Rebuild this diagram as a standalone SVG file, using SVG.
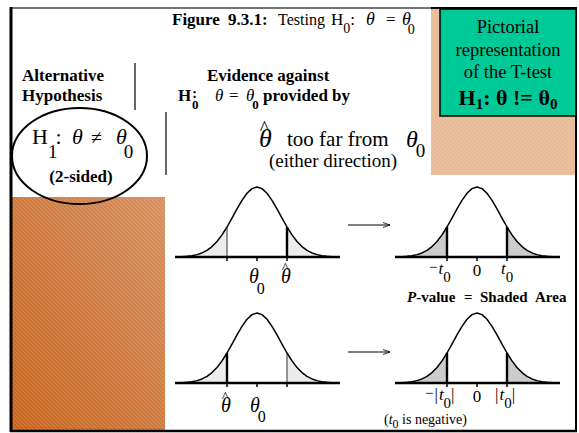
<svg xmlns="http://www.w3.org/2000/svg" width="579" height="433" viewBox="0 0 579 433">
<style>
text{font-family:"Liberation Serif","Times New Roman",serif;fill:#000}
.b{font-weight:bold}
.i{font-style:italic}
.curve{fill:none;stroke:#000;stroke-width:1.5;stroke-linejoin:round}
.axis{stroke:#000;stroke-width:2.6}
.thick{stroke:#000;stroke-width:2.4}
.thin{stroke:#333;stroke-width:1}
.tick{stroke:#000;stroke-width:1.5}
.light{fill:#ececec}
.dark{fill:#cccccc}
.conn{stroke:#000;stroke-width:1;fill:none}
</style>
<defs>
<linearGradient id="og" x1="1" y1="0" x2="0" y2="1">
<stop offset="0" stop-color="#D98F5E"/>
<stop offset="1" stop-color="#CB6418"/>
</linearGradient>
<pattern id="st" patternUnits="userSpaceOnUse" width="4" height="4">
<path d="M-1,-1 L5,5 M-1,3 L1,5 M3,-1 L5,1" stroke="#fff" stroke-opacity="0.22" stroke-width="0.8"/>
</pattern>
<path id="bell" d="M-80,-0.17 L-75,-0.35 L-70,-0.69 L-65,-1.31 L-60,-2.36 L-55,-4.06 L-50,-6.65 L-45,-10.4 L-40,-15.52 L-35,-22.09 L-30,-30 L-25,-38.86 L-20,-48.04 L-15,-56.64 L-10,-63.71 L-5,-68.37 L0,-70 L5,-68.37 L10,-63.71 L15,-56.64 L20,-48.04 L25,-38.86 L30,-30 L35,-22.09 L40,-15.52 L45,-10.4 L50,-6.65 L55,-4.06 L60,-2.36 L65,-1.31 L70,-0.69 L75,-0.35 L80,-0.17"/>
<path id="ltail" d="M-80,0 L-80,-0.17 L-75,-0.35 L-70,-0.69 L-65,-1.31 L-60,-2.36 L-55,-4.06 L-50,-6.65 L-45,-10.4 L-40,-15.52 L-35,-22.09 L-30,-30 L-30,0 Z"/>
<path id="rtail" d="M80,0 L80,-0.17 L75,-0.35 L70,-0.69 L65,-1.31 L60,-2.36 L55,-4.06 L50,-6.65 L45,-10.4 L40,-15.52 L35,-22.09 L30,-30 L30,0 Z"/>
<g id="ticks"><line class="tick" x1="-30" y1="0" x2="-30" y2="4"/><line class="tick" x1="0" y1="0" x2="0" y2="4"/><line class="tick" x1="30" y1="0" x2="30" y2="4"/></g>
<marker id="ah" markerWidth="8" markerHeight="6" refX="7" refY="3" orient="auto" markerUnits="userSpaceOnUse">
<path d="M0,0.5 L7,3 L0,5.5" fill="none" stroke="#000" stroke-width="0.8"/>
</marker>
</defs>

<rect x="0" y="0" width="579" height="433" fill="#fff"/>

<g id="patches">
<rect x="12" y="197" width="153" height="233" fill="url(#og)"/>
<rect x="12" y="197" width="153" height="233" fill="url(#st)"/>
<rect x="431" y="9" width="145" height="166" fill="#E9BA96"/>
<rect x="431" y="9" width="145" height="166" fill="url(#st)"/>
</g>

<g id="frame" fill="none">
<line x1="10" y1="8" x2="431" y2="8" stroke="#444" stroke-width="1.5"/>
<line x1="431" y1="8" x2="577" y2="8" stroke="#000" stroke-width="2"/>
<line x1="11" y1="7" x2="11" y2="432" stroke="#000" stroke-width="3"/>
<line x1="576" y1="7" x2="576" y2="432" stroke="#000" stroke-width="2"/>
<line x1="10" y1="431" x2="577" y2="431" stroke="#000" stroke-width="2.5"/>
<line x1="135" y1="63" x2="135" y2="110" stroke="#000" stroke-width="1.2"/>
<line x1="166" y1="112" x2="166" y2="175" stroke="#000" stroke-width="1.2"/>
</g>

<g id="title">
<text x="172" y="25" font-size="17" class="b">Figure</text>
<text x="228" y="25" font-size="17" class="b">9.3.1:</text>
<text x="278" y="25" font-size="16">Testing</text>
<text x="331" y="25" font-size="17">H<tspan font-size="14" dy="8">0</tspan><tspan dy="-8">:</tspan></text>
<text x="366" y="25" font-size="18" class="i">θ</text>
<text x="386" y="25" font-size="17">=</text>
<text x="402" y="25" font-size="18" class="i">θ<tspan font-size="14" font-style="normal" dx="-3" dy="9">0</tspan></text>
</g>

<g id="pictorial">
<rect x="440" y="9" width="136" height="107" fill="#00C998" stroke="#000" stroke-width="1.5"/>
<text x="508" y="33" font-size="18.5" text-anchor="middle">Pictorial</text>
<text x="508" y="56" font-size="18.5" text-anchor="middle">representation</text>
<text x="508" y="78" font-size="18.5" text-anchor="middle">of the T-test</text>
<text x="508" y="105" font-size="22" text-anchor="middle" class="b">H<tspan font-size="15" dy="4">1</tspan><tspan dy="-4">: θ != θ</tspan><tspan font-size="15" dy="4">0</tspan></text>
</g>

<g id="alt-header">
<text x="22" y="81" font-size="17" class="b">Alternative</text>
<text x="22" y="101" font-size="17" class="b">Hypothesis</text>
</g>

<g id="evidence-header">
<text x="207" y="81" font-size="17" class="b">Evidence against</text>
<text x="178" y="101" font-size="17" class="b">H<tspan font-size="14" dx="1" dy="-3">:</tspan><tspan font-size="13" dx="-5" dy="11">0</tspan></text>
<text x="215" y="101" font-size="17" class="i">θ</text>
<text x="229" y="101" font-size="17">=</text>
<text x="246" y="101" font-size="17" class="i">θ<tspan font-size="13" font-style="normal" font-weight="bold" dx="-2" dy="8">0</tspan></text>
<text x="263" y="101" font-size="17" class="b">provided by</text>
</g>

<g id="h1-ellipse">
<ellipse cx="79.5" cy="156" rx="67.5" ry="48" fill="none" stroke="#000" stroke-width="2"/>
<text x="32" y="144" font-size="22">H<tspan font-size="19" dy="14">1</tspan><tspan dx="-2" dy="-14">:</tspan></text>
<text x="72" y="144" font-size="22" class="i">θ</text>
<text x="91" y="144" font-size="20">≠</text>
<text x="116" y="144" font-size="22" class="i">θ<tspan font-size="19" font-style="normal" dx="-3" dy="14">0</tspan></text>
<text x="81" y="182" font-size="17" class="b" text-anchor="middle">(2-sided)</text>
</g>

<g id="evidence">
<text x="259" y="147" font-size="26" class="i">θ<tspan font-size="20" font-style="normal" dx="-12" dy="-12">^</tspan></text>
<text x="287" y="146" font-size="21">too far from</text>
<text x="406" y="147" font-size="24" class="i">θ<tspan font-size="19" font-style="normal" dx="-2" dy="10">0</tspan></text>
<text x="269" y="167" font-size="19">(either direction)</text>
</g>

<g id="curve-tl">
<use href="#ltail" class="light" transform="translate(257,257)"/>
<use href="#rtail" class="light" transform="translate(257,257)"/>
<use href="#bell" class="curve" transform="translate(257,257)"/>
<line class="thin" x1="227" y1="257" x2="227" y2="227"/>
<line class="thick" x1="287" y1="257" x2="287" y2="227"/>
<line class="axis" x1="175" y1="257" x2="340" y2="257"/>
<use href="#ticks" transform="translate(257,257)"/>
<text x="249" y="283" font-size="20" class="i">θ<tspan font-size="16" font-style="normal" dx="-2" dy="11">0</tspan></text>
<text x="281" y="283" font-size="20" class="i">θ<tspan font-size="15" font-style="normal" dx="-9" dy="-10">^</tspan></text>
</g>

<g id="curve-tr">
<use href="#ltail" class="dark" transform="translate(477,257)"/>
<use href="#rtail" class="dark" transform="translate(477,257)"/>
<use href="#bell" class="curve" transform="translate(477,257)"/>
<line class="thick" x1="447" y1="257" x2="447" y2="227"/>
<line class="thick" x1="507" y1="257" x2="507" y2="227"/>
<line class="axis" x1="395" y1="257" x2="560" y2="257"/>
<use href="#ticks" transform="translate(477,257)"/>
<text x="429" y="272" font-size="15">−<tspan font-size="17" font-style="italic" dx="1" dy="2">t</tspan><tspan font-size="15" dx="0" dy="8">0</tspan></text>
<text x="477" y="276" font-size="17" text-anchor="middle">0</text>
<text x="501" y="274" font-size="17" class="i">t<tspan font-size="15" font-style="normal" dy="8">0</tspan></text>
<text x="407" y="302" font-size="15" class="b"><tspan class="i">P</tspan>-value</text>
<text x="464" y="302" font-size="15" class="b">=</text>
<text x="480" y="302" font-size="15" class="b">Shaded</text>
<text x="535" y="302" font-size="15" class="b">Area</text>
</g>

<g id="curve-bl">
<use href="#ltail" class="light" transform="translate(257,383)"/>
<use href="#rtail" class="light" transform="translate(257,383)"/>
<use href="#bell" class="curve" transform="translate(257,383)"/>
<line class="thick" x1="227" y1="383" x2="227" y2="353"/>
<line class="thin" x1="287" y1="383" x2="287" y2="353"/>
<line class="axis" x1="175" y1="383" x2="340" y2="383"/>
<use href="#ticks" transform="translate(257,383)"/>
<text x="221" y="412" font-size="20" class="i">θ<tspan font-size="15" font-style="normal" dx="-9" dy="-10">^</tspan></text>
<text x="250" y="412" font-size="20" class="i">θ<tspan font-size="16" font-style="normal" dx="-2" dy="10">0</tspan></text>
</g>

<g id="curve-br">
<use href="#ltail" class="dark" transform="translate(477,383)"/>
<use href="#rtail" class="dark" transform="translate(477,383)"/>
<use href="#bell" class="curve" transform="translate(477,383)"/>
<line class="thick" x1="447" y1="383" x2="447" y2="353"/>
<line class="thick" x1="507" y1="383" x2="507" y2="353"/>
<line class="axis" x1="395" y1="383" x2="560" y2="383"/>
<use href="#ticks" transform="translate(477,383)"/>
<text x="425" y="398" font-size="15">−<tspan font-size="17" dx="1" dy="2">|</tspan><tspan font-size="17" font-style="italic" dx="1">t</tspan><tspan font-size="15" dy="8">0</tspan><tspan font-size="17" dy="-8">|</tspan></text>
<text x="477" y="402" font-size="17" text-anchor="middle">0</text>
<text x="495" y="400" font-size="17">|<tspan font-style="italic" dx="1">t</tspan><tspan font-size="15" dy="8">0</tspan><tspan dy="-8">|</tspan></text>
<text x="384" y="424" font-size="14">(<tspan class="i">t</tspan><tspan font-size="12" dy="4">0</tspan><tspan dy="-4"> is negative)</tspan></text>
</g>

<g id="connectors">
<line class="conn" x1="348" y1="225" x2="390" y2="225" marker-end="url(#ah)"/>
<line class="conn" x1="348" y1="352" x2="390" y2="352" marker-end="url(#ah)"/>
</g>
</svg>
